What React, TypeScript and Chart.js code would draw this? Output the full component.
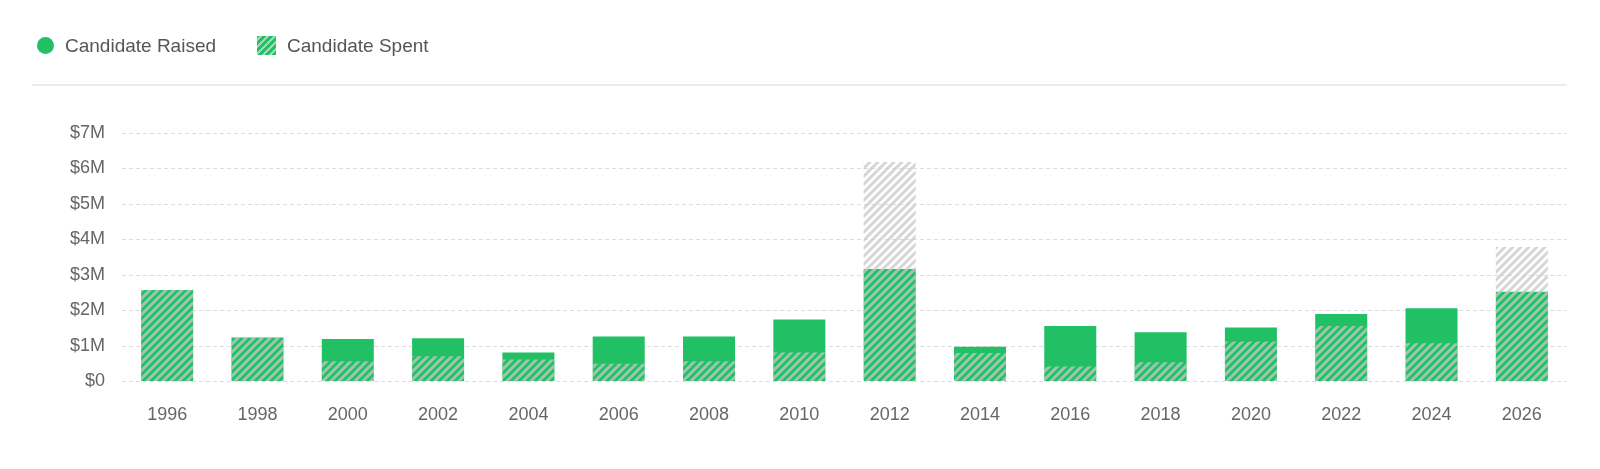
import { useEffect, useRef } from 'react';
import { Chart, registerables } from 'chart.js';

Chart.register(...registerables);

const years = ['1996', '1998', '2000', '2002', '2004', '2006', '2008', '2010', '2012', '2014', '2016', '2018', '2020', '2022', '2024', '2026'];
const raised = [2.58, 1.24, 1.2, 1.22, 0.82, 1.27, 1.27, 1.75, 3.17, 0.98, 1.56, 1.39, 1.52, 1.9, 2.06, 2.53].map((v) => v * 1e6);
const spent = [2.58, 1.24, 0.57, 0.71, 0.62, 0.5, 0.57, 0.82, 6.18, 0.8, 0.42, 0.54, 1.13, 1.56, 1.08, 3.79].map((v) => v * 1e6);

const GREEN = '#21c064';
const FONT = '"Liberation Sans", Arial, Helvetica, sans-serif';

// diagonal stripes on a transparent tile, laid over the solid bar
function makeHatch(ctx: CanvasRenderingContext2D) {
  const size = 8;
  const tile = document.createElement('canvas');
  tile.width = size;
  tile.height = size;
  const t = tile.getContext('2d')!;
  t.strokeStyle = 'rgba(200, 200, 200, 0.75)';
  t.lineWidth = 3;
  t.lineCap = 'square';
  t.beginPath();
  t.moveTo(0, size);
  t.lineTo(size, 0);
  t.moveTo(-2, 2);
  t.lineTo(2, -2);
  t.moveTo(size - 2, size + 2);
  t.lineTo(size + 2, size - 2);
  t.stroke();
  return ctx.createPattern(tile, 'repeat')!;
}

export default function App() {
  const canvasRef = useRef<HTMLCanvasElement>(null);
  const chartRef = useRef<Chart | null>(null);

  useEffect(() => {
    if (!canvasRef.current) return;
    const ctx = canvasRef.current.getContext('2d');
    if (!ctx) return;
    if (chartRef.current) chartRef.current.destroy();

    const hatch = makeHatch(ctx);

    chartRef.current = new Chart(ctx, {
      type: 'bar',
      data: {
        labels: years,
        datasets: [
          {
            label: 'Candidate Raised',
            data: raised,
            backgroundColor: GREEN,
            grouped: false,
            order: 1,
          },
          {
            label: 'Candidate Spent',
            data: spent,
            backgroundColor: hatch,
            grouped: false,
            order: 0,
          },
        ],
      },
      options: {
        responsive: false,
        maintainAspectRatio: false,
        animation: false,
        layout: { padding: { top: 133, right: 33, bottom: 0, left: 0 } },
        datasets: {
          bar: { categoryPercentage: 1, barPercentage: 0.576 },
        },
        scales: {
          x: {
            afterFit: (scale) => {
              scale.height = 87.5;
            },
            grid: { display: false, drawTicks: false },
            border: { display: false },
            ticks: { color: '#666', font: { family: FONT, size: 18 }, padding: 23 },
          },
          y: {
            min: 0,
            max: 7e6,
            afterFit: (scale) => {
              scale.width = 122;
            },
            grid: { color: '#dddddd', drawTicks: false },
            border: { display: false, dash: [4, 3] },
            ticks: {
              stepSize: 1e6,
              color: '#666',
              font: { family: FONT, size: 18 },
              padding: 17,
              callback: (v) => (Number(v) === 0 ? '$0' : '$' + Number(v) / 1e6 + 'M'),
            },
          },
        },
        plugins: {
          legend: { display: false },
          tooltip: { enabled: false },
        },
      },
    });

    return () => {
      if (chartRef.current) {
        chartRef.current.destroy();
        chartRef.current = null;
      }
    };
  }, []);

  const legendText = {
    position: 'absolute' as const,
    top: 34,
    fontFamily: FONT,
    fontSize: 19,
    lineHeight: '23px',
    color: '#555',
  };

  return (
    <div style={{ position: 'fixed', left: 0, top: 0, width: 1600, height: 469, background: '#fff' }}>
      <canvas ref={canvasRef} width={1600} height={469} style={{ position: 'absolute', left: 0, top: 0, width: 1600, height: 469 }} />
      <div style={{ position: 'absolute', left: 37, top: 37, width: 17, height: 17, borderRadius: '50%', background: GREEN }} />
      <div style={{ ...legendText, left: 65 }}>Candidate Raised</div>
      <div
        style={{
          position: 'absolute',
          left: 257,
          top: 36,
          width: 19,
          height: 19,
          background: `repeating-linear-gradient(-45deg, ${GREEN} 0px, ${GREEN} 3px, #9fdab5 3px, #9fdab5 5px)`,
        }}
      />
      <div style={{ ...legendText, left: 287 }}>Candidate Spent</div>
      <div style={{ position: 'absolute', left: 32, top: 84, width: 1535, height: 2, background: '#ebebeb' }} />
    </div>
  );
}
